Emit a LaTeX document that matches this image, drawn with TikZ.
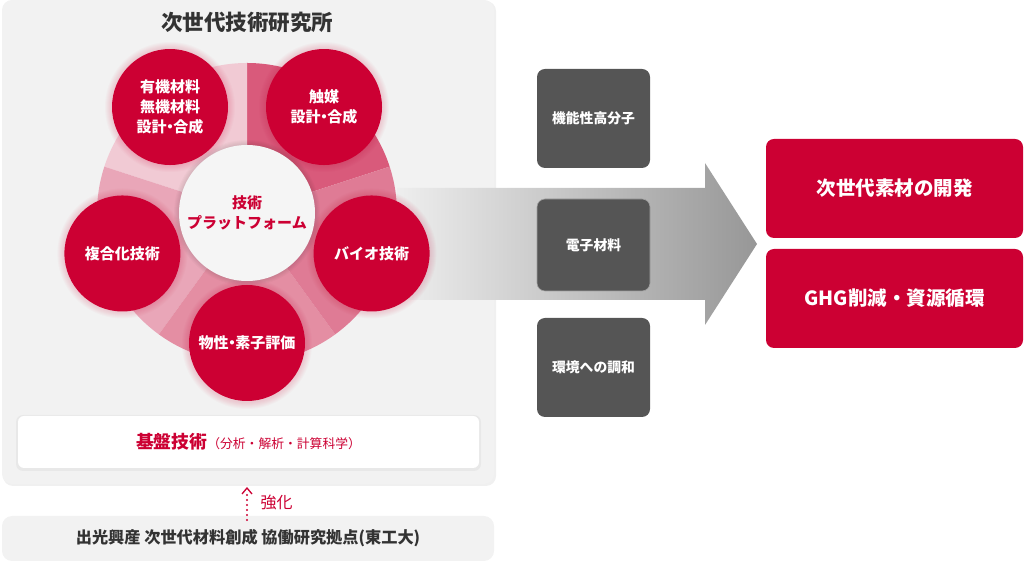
\documentclass[tikz,border=0pt]{standalone}
\usepackage{fontspec}
\setmainfont{Noto Sans CJK JP}
\usetikzlibrary{arrows.meta,calc}
\definecolor{ired}{HTML}{CC0033}
\definecolor{panelbg}{HTML}{F2F2F2}
\definecolor{darkbox}{HTML}{555555}
\definecolor{titlegray}{HTML}{333333}
\definecolor{secA}{HTML}{D95A7B}
\definecolor{secB}{HTML}{DF7B95}
\definecolor{secC}{HTML}{E48EA3}
\definecolor{secD}{HTML}{E9A6B8}
\definecolor{secE}{HTML}{F1CAD4}
\definecolor{arrowL}{HTML}{EEEEEE}
\definecolor{arrowR}{HTML}{979797}
\newcommand{\ndot}{\kern-0.28em・\kern-0.28em}
\tikzset{
  redcirc/.style={circle, fill=ired, minimum size=116pt, inner sep=0pt, text=white, font=\bfseries\fontsize{15}{20}\selectfont, align=center},
  darkbox/.style={rounded corners=8pt, fill=darkbox, minimum width=113pt, text=white, font=\bfseries\fontsize{13.8}{16}\selectfont, inner sep=0pt},
  redbox/.style={rounded corners=8pt, fill=ired, minimum width=257pt, minimum height=99pt, text=white, font=\bfseries\fontsize{19.5}{22}\selectfont, inner sep=0pt},
}
\begin{document}
\begin{tikzpicture}[x=1pt,y=1pt]
\useasboundingbox (0,0) rectangle (1024,564);
% panels
\fill[black!6, rounded corners=10pt] (3,78) rectangle (496,563);
\fill[panelbg, rounded corners=10pt] (2,80) rectangle (494,564);
\node[rounded corners=10pt, fill=panelbg, minimum width=492pt, minimum height=45pt, inner sep=0pt,
  text=titlegray, font=\bfseries\fontsize{16.2}{18}\selectfont] (base) at (248,25.5) {出光興産 次世代材料創成 協働研究拠点(東工大)};
\node[text=titlegray, font=\bfseries\fontsize{21.5}{24}\selectfont] (title) at (247,542) {次世代技術研究所};
% big arrow
\shade[left color=arrowL, right color=arrowR]
  (397,264) -- (705,264) -- (705,239) -- (757,320) -- (705,401) -- (705,376) -- (397,376) -- cycle;
\coordinate (arrowstart) at (397,320);
\coordinate (arrowtip) at (757,320);
% pie
\coordinate (C) at (247,351);
\fill[secA] (C) -- ++(18:150) arc[start angle=18, end angle=90, radius=150] -- cycle;
\fill[secE] (C) -- ++(90:150) arc[start angle=90, end angle=162, radius=150] -- cycle;
\fill[secD] (C) -- ++(162:150) arc[start angle=162, end angle=234, radius=150] -- cycle;
\fill[secC] (C) -- ++(234:150) arc[start angle=234, end angle=306, radius=150] -- cycle;
\fill[secB] (C) -- ++(306:150) arc[start angle=306, end angle=378, radius=150] -- cycle;
% halos
\foreach \a in {54,126,198,270,342}{
  \foreach \i in {1,...,7}{
    \fill[ired, opacity=0.025] (C) ++(\a:131) circle[radius=58+\i];
  }
}
\foreach \i in {1,...,5}{
  \fill[black, opacity=0.02] (C) circle[radius=68+\i];
}
\node[circle, fill=white!96!black, minimum size=136pt, inner sep=0pt, text=ired,
  font=\bfseries\fontsize{15}{20}\selectfont, align=center] (center) at (C) {技術\\プラットフォーム};
\node[redcirc] (c1) at ($(C)+(126:131)$) {有機材料\\無機材料\\設計\ndot 合成};
\node[redcirc] (c2) at ($(C)+(54:131)$) {触媒\\設計\ndot 合成};
\node[redcirc] (c3) at ($(C)+(198:131)$) {複合化技術};
\node[redcirc] (c4) at ($(C)+(342:131)$) {バイオ技術};
\node[redcirc] (c5) at ($(C)+(270:130)$) {物性\ndot 素子評価};
% kiban box
\fill[black, opacity=0.04, rounded corners=7pt] (16,93) rectangle (481,149);
\node[rounded corners=6pt, fill=white, minimum width=461pt, minimum height=52pt, inner sep=0pt] (kiban) at (248.5,122)
  {\textcolor{ired}{\bfseries\fontsize{17.8}{20}\selectfont 基盤技術}\textcolor{ired}{\fontsize{12.8}{14}\selectfont （分析・解析・計算科学）}};
% dotted arrow
\coordinate (dotfrom) at (247,44);
\coordinate (dotto) at (247,76);
\draw[ired, line width=2.2pt, line cap=round, dash pattern=on 0pt off 5pt] (dotfrom) -- ($(dotto)+(0,-3)$);
\draw[ired, line width=1.3pt] ($(dotto)+(-5,-6)$) -- (dotto) -- ($(dotto)+(5,-6)$);
\node[text=ired, font=\fontsize{16}{18}\selectfont, anchor=west] (kyoka) at (257,62) {強化};
% dark boxes
\node[darkbox, minimum height=99pt] (d1) at (593.5,445.5) {機能性高分子};
\node[darkbox, minimum height=92pt, draw=white!45!darkbox, line width=0.6pt] (d2) at (593.5,319) {電子材料};
\node[darkbox, minimum height=99pt] (d3) at (593.5,196.5) {環境への調和};
% red boxes
\node[redbox] (r1) at (894.5,375.5) {次世代素材の開発};
\node[redbox] (r2) at (894.5,265.5) {GHG削減・資源循環};
\end{tikzpicture}
\end{document}
